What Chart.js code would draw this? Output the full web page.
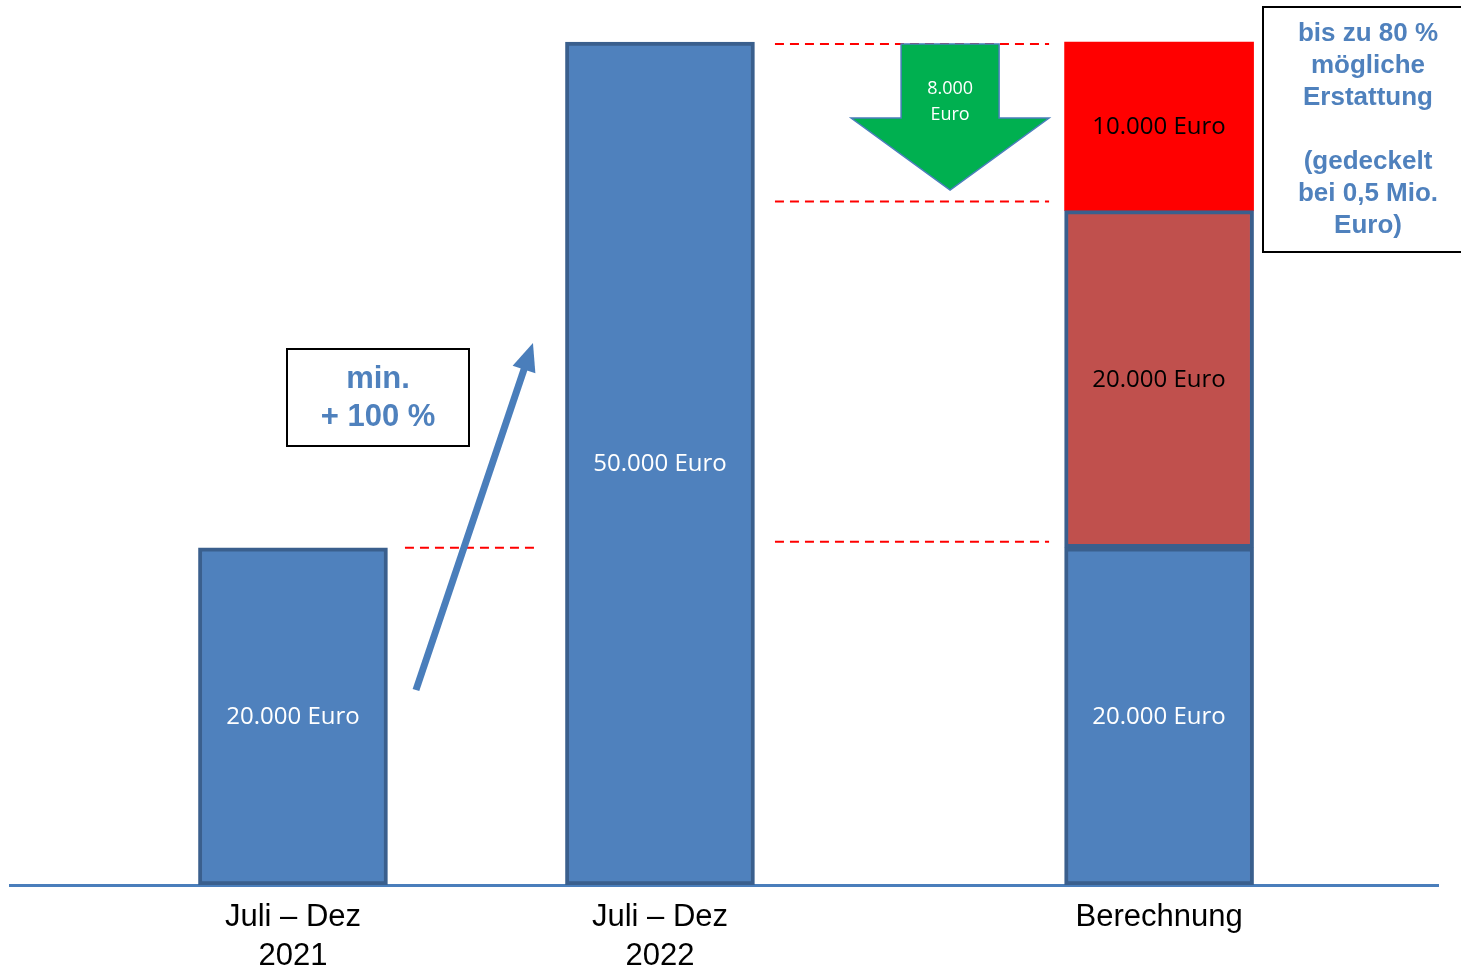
<!DOCTYPE html>
<html>
<head>
<meta charset="utf-8">
<script src="https://cdn.jsdelivr.net/npm/chart.js@4.4.1/dist/chart.umd.min.js"></script>
<style>
html, body { margin: 0; padding: 0; background: #fff; }
</style>
</head>
<body>
<canvas id="refund-chart" width="1461" height="979"></canvas>
<script>
// Categories and where they sit on the x axis (the third one is pushed right to leave room for the arrow)
let categories = [['Juli – Dez', '2021'], ['Juli – Dez', '2022'], ['Berechnung']]
let categoryPositions = [1, 2, 3.36]

// Values in Euro
let costValues = [20000, 50000, 20000]     // blue bars, also the base of the Berechnung stack
let ownShareValues = [null, null, 20000]   // dark red part
let refundValues = [null, null, 10000]     // red part on top

// Texts of the extra shapes
let refundArrowLabel = ['8.000', 'Euro']
let increaseLabel = ['min.', '+ 100 %']
let noteLabel = ['bis zu 80 %', 'mögliche', 'Erstattung', '', '(gedeckelt', 'bei 0,5 Mio.', 'Euro)']

// Turn a list of values into points, skipping the empty ones
function toPoints(values) {
    let points = []
    values.forEach(function(v, i) {
        if (v !== null) points.push({ x: categoryPositions[i], y: v })
    })
    return points
}

// 20000 -> "20.000 Euro"
function euro(v) {
    return String(v).replace(/\B(?=(\d{3})+(?!\d))/g, '.') + ' Euro'
}

function dashedLine(ctx, xa, xb, yy) {
    ctx.save()
    ctx.strokeStyle = '#FF0000'
    ctx.lineWidth = 2
    ctx.setLineDash([9, 6])
    ctx.beginPath()
    ctx.moveTo(xa, yy)
    ctx.lineTo(xb, yy)
    ctx.stroke()
    ctx.restore()
}

function textLines(ctx, lines, cx, firstY, step) {
    lines.forEach(function(line, i) {
        ctx.fillText(line, cx, firstY + i * step)
    })
}

// Draws the value labels, dashed lines, arrows and text boxes on top of the bars
let annotations = {
    id: 'annotations',
    afterDatasetsDraw(chart) {
        let ctx = chart.ctx
        let xs = chart.scales.x
        let ys = chart.scales.y
        let x1 = xs.getPixelForValue(categoryPositions[0])
        let x2 = xs.getPixelForValue(categoryPositions[1])
        let x3 = xs.getPixelForValue(categoryPositions[2])

        // value labels in the middle of each bar
        ctx.save()
        ctx.font = '24px "Open Sans"'
        ctx.textAlign = 'center'
        ctx.textBaseline = 'middle'
        chart.data.datasets.forEach(function(ds, di) {
            chart.getDatasetMeta(di).data.forEach(function(bar, i) {
                ctx.fillStyle = ds.labelColor
                ctx.fillText(euro(ds.data[i].y), bar.x, (bar.y + bar.base) / 2 + 1)
            })
        })
        ctx.restore()

        // red dashed guide lines
        let top1 = ys.getPixelForValue(costValues[0])
        let top2 = ys.getPixelForValue(costValues[1])
        let midTop = ys.getPixelForValue(costValues[2] + ownShareValues[2])
        let baseTop = ys.getPixelForValue(costValues[2])
        dashedLine(ctx, x1 + 112, x2 - 125, top1)
        dashedLine(ctx, x2 + 115, x3 - 110, top2 + 2)
        dashedLine(ctx, x2 + 115, x3 - 110, midTop - 9)
        dashedLine(ctx, x2 + 115, x3 - 110, baseTop - 6)

        // green arrow pointing down
        let cx = x3 - 209
        let aTop = top2 + 2
        let headY = aTop + 74
        let tip = headY + 72
        ctx.save()
        ctx.beginPath()
        ctx.moveTo(cx - 49, aTop)
        ctx.lineTo(cx + 49, aTop)
        ctx.lineTo(cx + 49, headY)
        ctx.lineTo(cx + 99, headY)
        ctx.lineTo(cx, tip)
        ctx.lineTo(cx - 99, headY)
        ctx.lineTo(cx - 49, headY)
        ctx.closePath()
        ctx.fillStyle = '#00B050'
        ctx.fill()
        ctx.strokeStyle = '#4A7EBB'
        ctx.lineWidth = 1.5
        ctx.stroke()
        ctx.fillStyle = '#FFFFFF'
        ctx.font = '18px "Open Sans"'
        ctx.textAlign = 'center'
        ctx.textBaseline = 'middle'
        textLines(ctx, refundArrowLabel, cx, aTop + 45, 26)
        ctx.restore()

        // blue arrow going up from the first bar
        let ax = x1 + 123, ay = 690
        let bx = x2 - 127, by = 343
        let ang = Math.atan2(by - ay, bx - ax)
        let headLen = 28
        ctx.save()
        ctx.strokeStyle = '#4A7EBB'
        ctx.fillStyle = '#4A7EBB'
        ctx.lineWidth = 7
        ctx.beginPath()
        ctx.moveTo(ax, ay)
        ctx.lineTo(bx - Math.cos(ang) * (headLen - 4), by - Math.sin(ang) * (headLen - 4))
        ctx.stroke()
        ctx.beginPath()
        ctx.moveTo(bx, by)
        ctx.lineTo(bx - Math.cos(ang) * headLen + Math.sin(ang) * 12, by - Math.sin(ang) * headLen - Math.cos(ang) * 12)
        ctx.lineTo(bx - Math.cos(ang) * headLen - Math.sin(ang) * 12, by - Math.sin(ang) * headLen + Math.cos(ang) * 12)
        ctx.closePath()
        ctx.fill()
        ctx.restore()

        // "min. + 100 %" box
        ctx.save()
        ctx.strokeStyle = '#000000'
        ctx.lineWidth = 2
        ctx.strokeRect(287, 349, 182, 97)
        ctx.fillStyle = '#4F81BD'
        ctx.font = 'bold 31px "Liberation Sans"'
        ctx.textAlign = 'center'
        ctx.textBaseline = 'middle'
        textLines(ctx, increaseLabel, 378, 379, 38)

        // note box on the right
        ctx.strokeRect(1263, 7, 202, 245)
        ctx.font = 'bold 26px "Liberation Sans"'
        textLines(ctx, noteLabel, 1368, 34, 32)
        ctx.restore()
    }
}

let ctx = document.querySelector('#refund-chart').getContext('2d')

let refundChart = new Chart(ctx, {
    type: 'bar',
    data: {
        datasets: [
            {
                data: toPoints(costValues),
                backgroundColor: '#4F81BD',
                borderColor: '#3A5F8D',
                borderWidth: 4,
                borderSkipped: false,
                labelColor: '#FFFFFF'
            },
            {
                data: toPoints(ownShareValues),
                backgroundColor: '#C0504D',
                borderColor: '#3A5F8D',
                borderWidth: 4,
                borderSkipped: false,
                labelColor: '#000000'
            },
            {
                data: toPoints(refundValues),
                backgroundColor: '#FF0000',
                borderWidth: 0,
                labelColor: '#000000'
            }
        ]
    },
    options: {
        responsive: false,
        animation: false,
        barThickness: 189,
        layout: { padding: { left: 10, right: 23, top: 0, bottom: 0 } },
        plugins: {
            legend: { display: false },
            tooltip: { enabled: false }
        },
        scales: {
            x: {
                type: 'linear',
                stacked: true,
                offset: false,
                bounds: 'data',
                min: 0.229,
                max: 4.12,
                grid: { display: false, drawTicks: false, offset: false },
                border: { display: true, color: '#4A7EBB', width: 3 },
                afterBuildTicks: function(scale) {
                    scale.ticks = categoryPositions.map(function(v) { return { value: v } })
                },
                afterFit: function(scale) {
                    scale.height = 94
                },
                ticks: {
                    autoSkip: false,
                    maxRotation: 0,
                    color: '#000000',
                    padding: 13,
                    font: { family: '"Liberation Sans"', size: 31, lineHeight: 1.26 },
                    callback: function(value, index) {
                        return categories[index]
                    }
                }
            },
            y: {
                display: false,
                stacked: true,
                min: 0,
                max: 52490
            }
        }
    },
    plugins: [annotations]
})
</script>
</body>
</html>
